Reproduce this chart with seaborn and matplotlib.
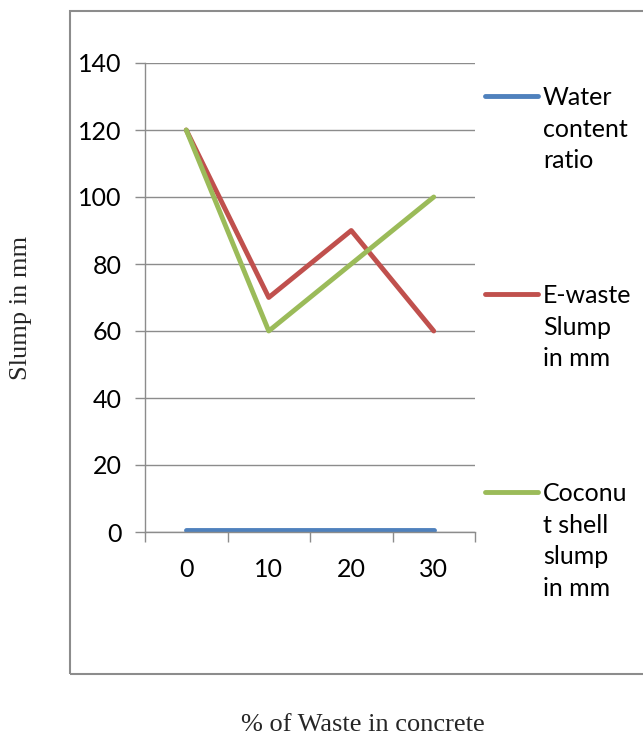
import matplotlib
matplotlib.use("Agg")
import matplotlib.pyplot as plt
from matplotlib.lines import Line2D
from matplotlib.patches import Rectangle
import seaborn as sns
import pandas as pd

# Slump test results against percentage of waste added to the mix
waste_pct = ["0", "10", "20", "30"]
water_content_ratio = [0.5, 0.5, 0.5, 0.5]
ewaste_slump = [120, 70, 90, 60]
coconut_slump = [120, 60, 80, 100]

series_names = ["Water\ncontent\nratio", "E-waste\nSlump\nin mm", "Coconu\nt shell\nslump\nin mm"]
series_colors = ["#4F81BD", "#C0504D", "#9BBB59"]
y_ticks = [0, 20, 40, 60, 80, 100, 120, 140]

df = pd.concat([
    pd.DataFrame({"pct": waste_pct, "slump": vals, "series": name})
    for name, vals in zip(series_names, [water_content_ratio, ewaste_slump, coconut_slump])
], ignore_index=True)

sns.set_theme(style="white")
plt.rcParams["font.family"] = ["Lato", "DejaVu Sans"]

W, H = 643, 736
fig = plt.figure(figsize=(W / 100, H / 100), dpi=100)

# chart frame
fig.add_artist(Rectangle((70 / W, 1 - 674 / H), 0.95, (674 - 11) / H,
                         transform=fig.transFigure, fill=False,
                         edgecolor="#8C8C8C", linewidth=1.5))

ax = fig.add_axes([145 / W, 1 - 532 / H, (475 - 145) / W, (532 - 63) / H])
grid_gray = "#8C8C8C"

sns.lineplot(data=df, x="pct", y="slump", hue="series", palette=series_colors,
             sort=False, linewidth=3.5, legend=False, ax=ax)
for ln in ax.lines:
    ln.set_solid_capstyle("round")
    ln.set_solid_joinstyle("round")

ax.set_xlim(-0.5, 3.5)
ax.set_ylim(0, 140)
ax.set_yticks(y_ticks)
ax.set_xticks(range(len(waste_pct)))
ax.set_xticklabels(waste_pct)
ax.set_xticks([i - 0.5 for i in range(len(waste_pct) + 1)], minor=True)

ax.yaxis.grid(True, color=grid_gray, linewidth=1.0)
ax.set_axisbelow(True)
for side in ["top", "right"]:
    ax.spines[side].set_visible(False)
for side in ["left", "bottom"]:
    ax.spines[side].set_color(grid_gray)
    ax.spines[side].set_linewidth(1.0)

ax.tick_params(axis="y", which="major", direction="out", length=7, width=1.0,
               color=grid_gray, pad=10, labelsize=18, labelcolor="black", left=True)
ax.tick_params(axis="x", which="major", length=0, pad=19, labelsize=18, labelcolor="black")
ax.tick_params(axis="x", which="minor", direction="out", length=7, width=1.0,
               color=grid_gray, bottom=True)
ax.set_xlabel("")
ax.set_ylabel("")

# legend entries at the right of the plot
legend_y = [96, 294, 492]
for name, color, yy in zip(series_names, series_colors, legend_y):
    fy = 1 - yy / H
    fig.add_artist(Line2D([485 / W, 538 / W], [fy, fy], transform=fig.transFigure,
                          color=color, linewidth=3.5, solid_capstyle="round"))
    fig.text(543 / W, fy + 10 / H, name, fontsize=18, va="top", ha="left",
             linespacing=1.45, color="black")

fig.text(21 / W, 1 - 308 / H, "Slump in mm", rotation=90, ha="center", va="center",
         fontsize=19, family=["Liberation Serif", "DejaVu Serif"])
fig.text(363 / W, 1 - 725 / H, "% of Waste in concrete", ha="center", va="center",
         fontsize=19, family=["Liberation Serif", "DejaVu Serif"])

fig.savefig("out.png", dpi=100, facecolor="white")
